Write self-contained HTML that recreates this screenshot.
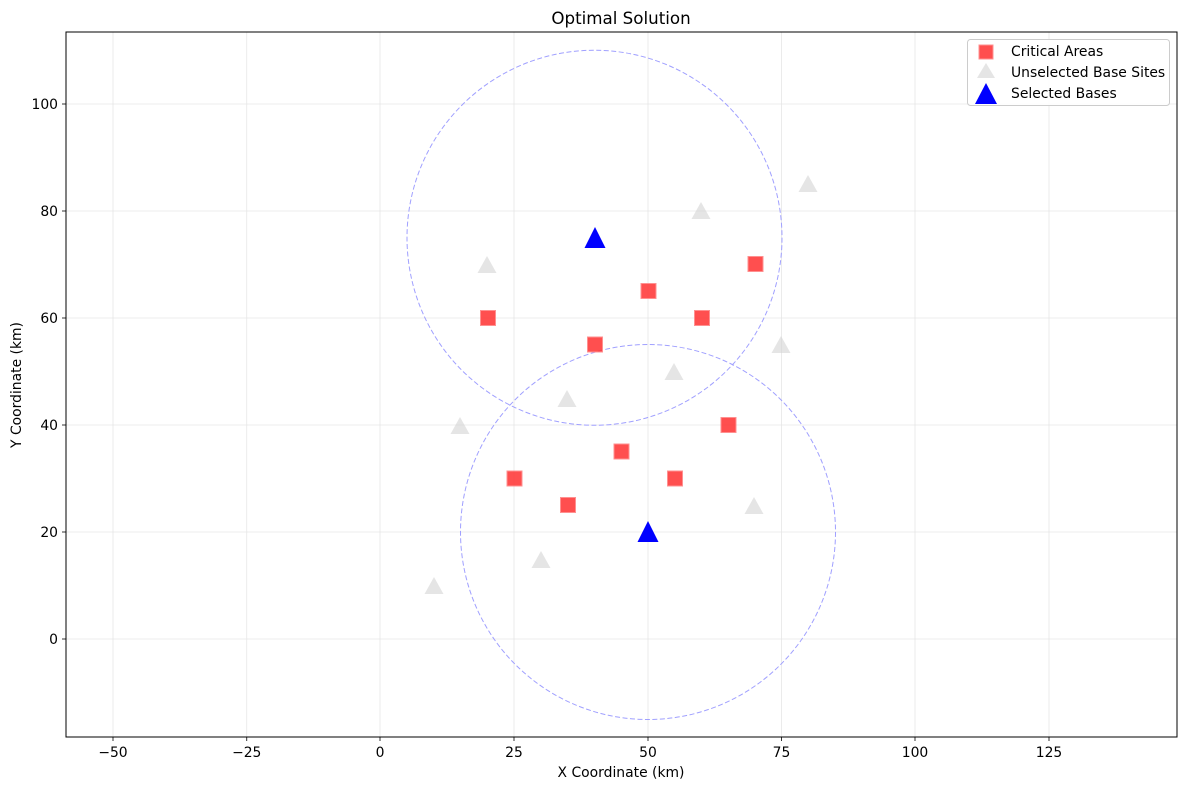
<!DOCTYPE html>
<html><head><style>body{margin:0;background:#fff}svg{font-family:"DejaVu Sans","Liberation Sans",sans-serif}</style></head><body>
<svg width="1187" height="790" xmlns="http://www.w3.org/2000/svg">
<rect width="1187" height="790" fill="#fff"/>
<g stroke="#e6e6e6" stroke-width="0.8">
<line x1="113" y1="32" x2="113" y2="737"/><line x1="246.75" y1="32" x2="246.75" y2="737"/><line x1="380" y1="32" x2="380" y2="737"/><line x1="514" y1="32" x2="514" y2="737"/><line x1="648" y1="32" x2="648" y2="737"/><line x1="781.5" y1="32" x2="781.5" y2="737"/><line x1="915" y1="32" x2="915" y2="737"/><line x1="1049" y1="32" x2="1049" y2="737"/>
<line x1="66" y1="104" x2="1177" y2="104"/><line x1="66" y1="211" x2="1177" y2="211"/><line x1="66" y1="318" x2="1177" y2="318"/><line x1="66" y1="425" x2="1177" y2="425"/><line x1="66" y1="532" x2="1177" y2="532"/><line x1="66" y1="639" x2="1177" y2="639"/>
</g>
<g fill="none" stroke="#a0a0ff" stroke-width="1" stroke-dasharray="5,2.5">
<circle cx="594.5" cy="237.75" r="187.5"/><circle cx="648" cy="532" r="187.5"/>
</g>
<g fill="#d3d3d3" fill-opacity="0.6">
<path d="M0,-9 L9.5,8 L-9.5,8Z" transform="translate(487,265)"/>
<path d="M0,-9 L9.5,8 L-9.5,8Z" transform="translate(701,211)"/>
<path d="M0,-9 L9.5,8 L-9.5,8Z" transform="translate(808,184)"/>
<path d="M0,-9 L9.5,8 L-9.5,8Z" transform="translate(781,345)"/>
<path d="M0,-9 L9.5,8 L-9.5,8Z" transform="translate(674,372)"/>
<path d="M0,-9 L9.5,8 L-9.5,8Z" transform="translate(567,399)"/>
<path d="M0,-9 L9.5,8 L-9.5,8Z" transform="translate(460,426)"/>
<path d="M0,-9 L9.5,8 L-9.5,8Z" transform="translate(754,506)"/>
<path d="M0,-9 L9.5,8 L-9.5,8Z" transform="translate(541,560)"/>
<path d="M0,-9 L9.5,8 L-9.5,8Z" transform="translate(434,586)"/>
</g>
<g fill="#ff3030" fill-opacity="0.85" stroke="#ff9090" stroke-width="1">
<rect x="480.5" y="310.5" width="15" height="15"/><rect x="587.5" y="337" width="15" height="15"/><rect x="641" y="283.5" width="15" height="15"/><rect x="694.5" y="310.5" width="15" height="15"/><rect x="748" y="256.5" width="15" height="15"/>
<rect x="507" y="471" width="15" height="15"/><rect x="560.5" y="497.5" width="15" height="15"/><rect x="614" y="444" width="15" height="15"/><rect x="667.5" y="471" width="15" height="15"/><rect x="721" y="417.5" width="15" height="15"/>
</g>
<g fill="#0000ff">
<path d="M0,-11 L10.5,10 L-10.5,10Z" transform="translate(595,238)"/>
<path d="M0,-11 L10.5,10 L-10.5,10Z" transform="translate(648,532)"/>
</g>
<rect x="66" y="32" width="1111" height="705" fill="none" stroke="#000" stroke-width="1"/>
<g stroke="#000" stroke-width="0.8">
<line x1="113" y1="737" x2="113" y2="741"/><line x1="246.75" y1="737" x2="246.75" y2="741"/><line x1="380" y1="737" x2="380" y2="741"/><line x1="514" y1="737" x2="514" y2="741"/><line x1="648" y1="737" x2="648" y2="741"/><line x1="781.5" y1="737" x2="781.5" y2="741"/><line x1="915" y1="737" x2="915" y2="741"/><line x1="1049" y1="737" x2="1049" y2="741"/>
<line x1="62" y1="104" x2="66" y2="104"/><line x1="62" y1="211" x2="66" y2="211"/><line x1="62" y1="318" x2="66" y2="318"/><line x1="62" y1="425" x2="66" y2="425"/><line x1="62" y1="532" x2="66" y2="532"/><line x1="62" y1="639" x2="66" y2="639"/>
</g>
<g font-size="13.9" text-anchor="middle" fill="#000">
<text x="113" y="757">−50</text><text x="246.75" y="757">−25</text><text x="380" y="757">0</text><text x="514" y="757">25</text><text x="648" y="757">50</text><text x="781.5" y="757">75</text><text x="915" y="757">100</text><text x="1049" y="757">125</text>
<text x="621" y="777">X Coordinate (km)</text>
<text x="621" y="24" font-size="16.7">Optimal Solution</text>
</g>
<g font-size="13.9" text-anchor="end">
<text x="58" y="109">100</text><text x="58" y="216">80</text><text x="58" y="323">60</text><text x="58" y="430">40</text><text x="58" y="537">20</text><text x="58" y="644">0</text>
</g>
<text transform="translate(21,385) rotate(-90)" font-size="13.9" text-anchor="middle">Y Coordinate (km)</text>
<rect x="967.5" y="39.5" width="202" height="66" fill="#fff" fill-opacity="0.85" stroke="#ccc" rx="3"/>
<rect x="979" y="45" width="14" height="14" fill="#ff3030" fill-opacity="0.85" stroke="#ff9090"/>
<path d="M986,63 L995,78 L977,78Z" fill="#d3d3d3" fill-opacity="0.6"/>
<path d="M986,83 L997,104 L975,104Z" fill="#0000ff"/>
<g font-size="13.9"><text x="1011" y="56">Critical Areas</text><text x="1011" y="77">Unselected Base Sites</text><text x="1011" y="98">Selected Bases</text></g>
</svg>
</body></html>
